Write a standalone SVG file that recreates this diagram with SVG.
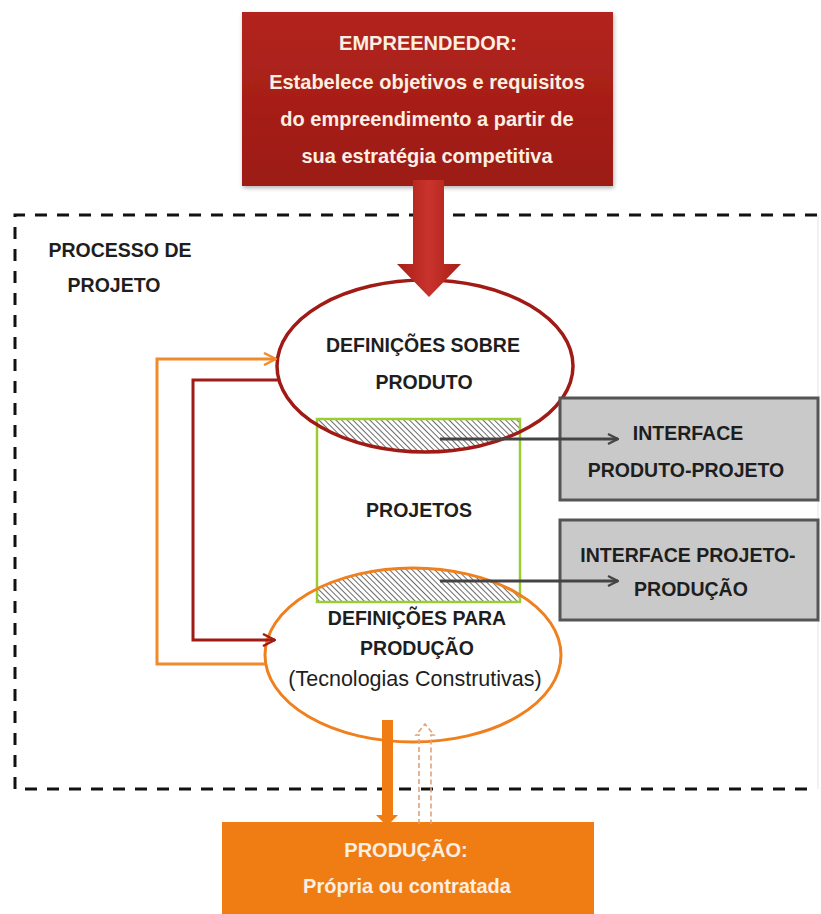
<svg xmlns="http://www.w3.org/2000/svg" width="821" height="914" viewBox="0 0 821 914">
  <style>
    .t { font-family: "Liberation Sans", Arial, sans-serif; font-weight: bold; text-anchor: middle; }
    .dark { fill: #1e1e1e; font-size: 19.5px; }
    .light { fill: #fbeee2; font-size: 20px; }
    .reg { font-weight: normal; font-size: 21.5px; }
    .conn { fill: none; stroke-width: 3; }
  </style>
  <defs>
    <linearGradient id="redBox" x1="0" y1="0" x2="0" y2="1">
      <stop offset="0" stop-color="#b3241d"/>
      <stop offset="1" stop-color="#9c1a14"/>
    </linearGradient>
    <linearGradient id="redShaft" x1="0" y1="0" x2="1" y2="0">
      <stop offset="0" stop-color="#a81d17"/>
      <stop offset="0.5" stop-color="#c8342c"/>
      <stop offset="1" stop-color="#a81d17"/>
    </linearGradient>
    <pattern id="hatch" width="4" height="4" patternUnits="userSpaceOnUse" patternTransform="rotate(-45)">
      <line x1="0" y1="0" x2="0" y2="4" stroke="#2a2a2a" stroke-width="1.4"/>
    </pattern>
    <clipPath id="clipTop">
      <ellipse cx="425" cy="366" rx="148" ry="86"/>
    </clipPath>
    <clipPath id="clipBottom">
      <ellipse cx="413" cy="655" rx="148" ry="87"/>
    </clipPath>
    <marker id="openGray" viewBox="0 0 12 12" refX="11" refY="6" markerWidth="12" markerHeight="12" markerUnits="userSpaceOnUse" orient="auto">
      <path d="M1,1 L11,6 L1,11" fill="none" stroke="#444" stroke-width="2.2"/>
    </marker>
    <marker id="openOrange" viewBox="0 0 14 14" refX="13" refY="7" markerWidth="14" markerHeight="14" markerUnits="userSpaceOnUse" orient="auto">
      <path d="M1,1 L13,7 L1,13" fill="none" stroke="#f08a2a" stroke-width="2.4"/>
    </marker>
    <marker id="openRed" viewBox="0 0 14 14" refX="13" refY="7" markerWidth="14" markerHeight="14" markerUnits="userSpaceOnUse" orient="auto">
      <path d="M1,1 L13,7 L1,13" fill="none" stroke="#a01b16" stroke-width="2.4"/>
    </marker>
    <filter id="shadow" x="-10%" y="-10%" width="120%" height="130%">
      <feDropShadow dx="1" dy="2" stdDeviation="2" flood-color="#000" flood-opacity="0.3"/>
    </filter>
  </defs>

  <rect width="821" height="914" fill="#ffffff"/>

  <!-- design process boundary (right side fades out) -->
  <g id="processo">
    <path d="M817,215 H15 V789 H817" fill="none" stroke="#111" stroke-width="3" stroke-dasharray="12 10"/>
    <line x1="818" y1="215" x2="818" y2="789" stroke="#e4e4e4" stroke-width="1"/>
    <text class="t dark" x="120" y="257">PROCESSO DE</text>
    <text class="t dark" x="114" y="292">PROJETO</text>
  </g>

  <!-- entrepreneur -->
  <g id="empreendedor">
    <rect x="242" y="12" width="371" height="174" fill="url(#redBox)" filter="url(#shadow)"/>
    <text class="t light" x="428" y="50">EMPREENDEDOR:</text>
    <text class="t light" x="427" y="89">Estabelece objetivos e requisitos</text>
    <text class="t light" x="427" y="126">do empreendimento a partir de</text>
    <text class="t light" x="427" y="163">sua estratégia competitiva</text>
  </g>

  <!-- product definitions -->
  <g id="definicoes-produto">
    <ellipse cx="425" cy="366" rx="148" ry="86" fill="#ffffff"/>
  </g>

  <!-- production definitions -->
  <g id="definicoes-producao">
    <ellipse cx="413" cy="655" rx="148" ry="87" fill="#ffffff"/>
  </g>

  <!-- design projects -->
  <g id="projetos">
    <rect x="317" y="419" width="203" height="183" fill="url(#hatch)" clip-path="url(#clipTop)"/>
    <rect x="317" y="419" width="203" height="183" fill="url(#hatch)" clip-path="url(#clipBottom)"/>
    <rect x="317" y="419" width="203" height="183" fill="none" stroke="#9acd32" stroke-width="2.5"/>
    <text class="t dark" x="419" y="517">PROJETOS</text>
  </g>

  <g id="definicoes-produto-contorno">
    <ellipse cx="425" cy="366" rx="148" ry="86" fill="none" stroke="#a01b16" stroke-width="3.5"/>
    <text class="t dark" x="423" y="352">DEFINIÇÕES SOBRE</text>
    <text class="t dark" x="424" y="389">PRODUTO</text>
  </g>

  <g id="definicoes-producao-contorno">
    <ellipse cx="413" cy="655" rx="148" ry="87" fill="none" stroke="#f07f1e" stroke-width="3"/>
    <text class="t dark" x="417" y="625">DEFINIÇÕES PARA</text>
    <text class="t dark" x="417" y="655">PRODUÇÃO</text>
    <text class="t dark reg" x="415" y="686">(Tecnologias Construtivas)</text>
  </g>

  <!-- interfaces -->
  <g id="interface-produto-projeto">
    <rect x="560" y="398" width="258" height="102" fill="#c9c9c9" stroke="#555" stroke-width="3"/>
    <text class="t dark" x="688" y="440">INTERFACE</text>
    <text class="t dark" x="686" y="477">PRODUTO-PROJETO</text>
  </g>
  <g id="interface-projeto-producao">
    <rect x="560" y="520" width="258" height="100" fill="#c9c9c9" stroke="#555" stroke-width="3"/>
    <text class="t dark" x="688" y="562">INTERFACE PROJETO-</text>
    <text class="t dark" x="691" y="596">PRODUÇÃO</text>
  </g>

  <!-- production -->
  <g id="producao">
    <rect x="222" y="822" width="372" height="100" fill="#f07d14"/>
    <text class="t light" x="406" y="857">PRODUÇÃO:</text>
    <text class="t light" x="407" y="893">Própria ou contratada</text>
  </g>

  <!-- connectors -->
  <g id="connectors">
    <!-- requirements flow into product definitions -->
    <path d="M413,180 H444 V264 H461 L429,297 L397,264 H413 Z" fill="url(#redShaft)"/>
    <!-- feedback loops -->
    <path class="conn" d="M265,664 H157 V359 H276" stroke="#f08a2a" marker-end="url(#openOrange)"/>
    <path class="conn" d="M279,380 H193 V640 H275" stroke="#a01b16" marker-end="url(#openRed)"/>
    <!-- interfaces -->
    <line x1="440" y1="439" x2="618" y2="439" stroke="#444" stroke-width="3" marker-end="url(#openGray)"/>
    <line x1="440" y1="581" x2="618" y2="581" stroke="#444" stroke-width="3" marker-end="url(#openGray)"/>
    <!-- to production -->
    <path d="M382,720 H393 V815 H398 L387,826 L376,815 H382 Z" fill="#f07d14"/>
    <!-- return from production -->
    <path d="M419,824 V735 H416 L425,724 L434,735 H431 V824" fill="none" stroke="#e0a27a" stroke-width="1.6" stroke-dasharray="5 3"/>
  </g>
</svg>
